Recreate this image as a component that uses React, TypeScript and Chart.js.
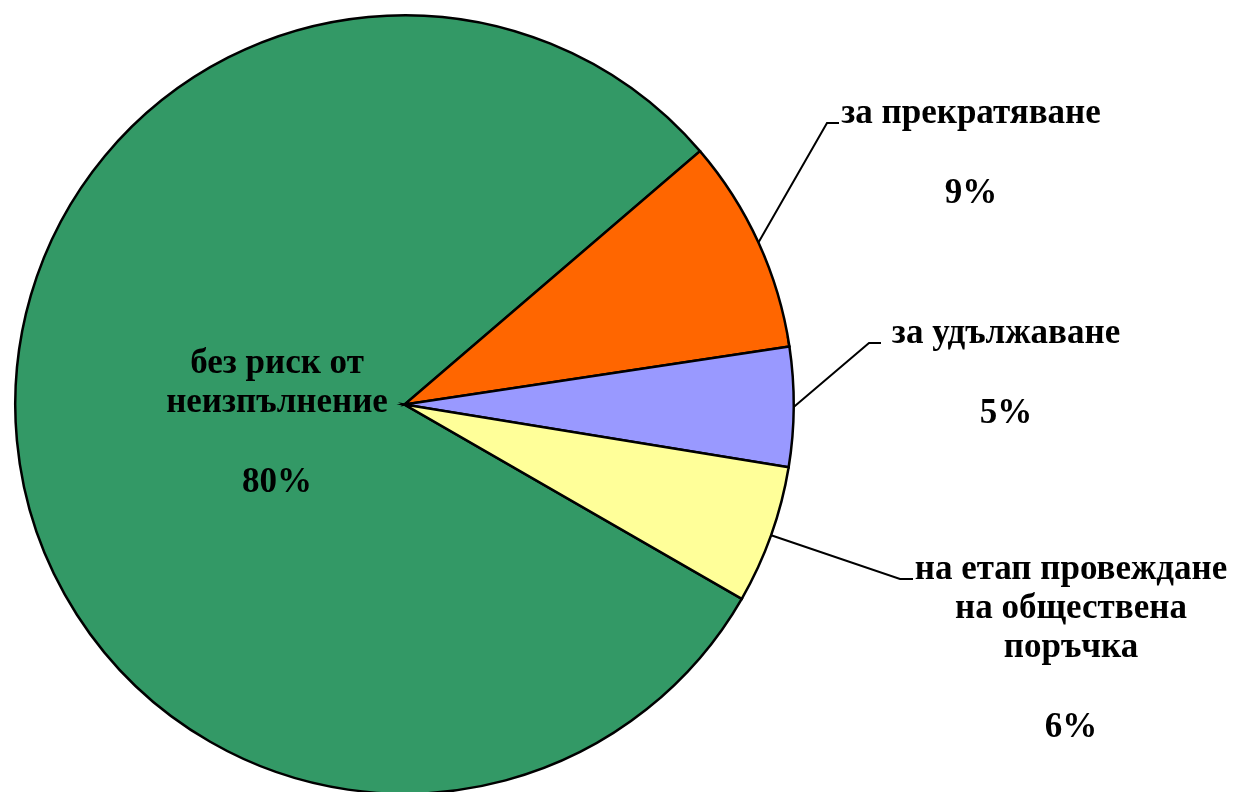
import React, { useEffect, useRef } from "react";
import { Chart, registerables } from "chart.js";

Chart.register(...registerables);

const categories = [
  "без риск от неизпълнение",
  "за прекратяване",
  "за удължаване",
  "на етап провеждане на обществена поръчка",
];
const values = [80.4, 8.9, 4.96, 5.74];
const colors = ["#339966", "#FF6600", "#9999FF", "#FFFF99"];

// label layout (style only): wrapped lines, text centre, first baseline, leader elbow
const labelLines = [
  ["без риск от", "неизпълнение"],
  ["за прекратяване"],
  ["за удължаване"],
  ["на етап провеждане", "на обществена", "поръчка"],
];
const labelLayout = [
  { cx: 277, y: 373, leader: null },
  { cx: 971, y: 123, leader: { ex: 827, ey: 123, hx: 839 } },
  { cx: 1006, y: 343, leader: { ex: 869, ey: 343, hx: 881 } },
  { cx: 1071, y: 579, leader: { ex: 900, ey: 579, hx: 913 } },
];

const labelPlugin = {
  id: "pieLabels",
  afterDraw(chart: any) {
    const ctx = chart.ctx;
    const meta = chart.getDatasetMeta(0);
    const data = chart.data.datasets[0].data as number[];
    const total = data.reduce((a, b) => a + b, 0);
    ctx.save();
    ctx.font = "bold 35px 'Liberation Serif', 'Times New Roman', serif";
    ctx.fillStyle = "#000";
    ctx.textAlign = "center";
    ctx.textBaseline = "alphabetic";
    meta.data.forEach((arc: any, i: number) => {
      const lay = labelLayout[i];
      const lines = labelLines[i];
      const lh = 39;
      lines.forEach((ln, k) => ctx.fillText(ln, lay.cx, lay.y + k * lh));
      const pct = Math.round((data[i] / total) * 100) + "%";
      ctx.fillText(pct, lay.cx, lay.y + (lines.length - 1) * lh + 80);
      if (lay.leader) {
        const p = arc.getProps(["x", "y", "startAngle", "endAngle", "outerRadius"], true);
        const mid = (p.startAngle + p.endAngle) / 2;
        const sx = p.x + Math.cos(mid) * p.outerRadius;
        const sy = p.y + Math.sin(mid) * p.outerRadius;
        ctx.beginPath();
        ctx.strokeStyle = "#000";
        ctx.lineWidth = 2;
        ctx.moveTo(sx, sy);
        ctx.lineTo(lay.leader.ex, lay.leader.ey);
        ctx.lineTo(lay.leader.hx, lay.leader.ey);
        ctx.stroke();
      }
    });
    ctx.restore();
  },
};

export default function App() {
  const ref = useRef<HTMLCanvasElement>(null);
  useEffect(() => {
    document.body.style.margin = "0";
    document.body.style.overflow = "hidden";
    const chart = new Chart(ref.current!, {
      type: "pie",
      data: {
        labels: categories,
        datasets: [
          {
            data: values,
            backgroundColor: colors,
            borderColor: "#000",
            borderWidth: 2.5,
            borderJoinStyle: "miter",
          } as any,
        ],
      },
      options: {
        responsive: false,
        animation: false,
        rotation: 119.95,
        layout: { padding: { left: 14, top: 14, right: 438, bottom: 14 } },
        plugins: { legend: { display: false }, tooltip: { enabled: false } },
      },
      plugins: [labelPlugin],
    });
    return () => chart.destroy();
  }, []);
  return (
    <div style={{ width: 1233, height: 809, background: "#fff" }}>
      <canvas ref={ref} width={1233} height={809} style={{ display: "block" }} />
    </div>
  );
}
